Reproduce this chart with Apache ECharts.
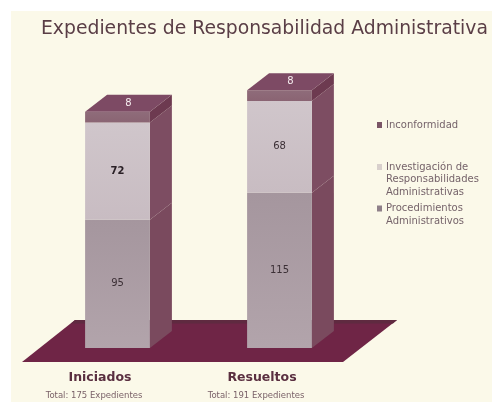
<!DOCTYPE html>
<html><head><meta charset="utf-8">
<style>html,body{margin:0;padding:0;background:#fff}#c{width:492px;height:402px}</style>
<script src="https://cdn.jsdelivr.net/npm/echarts@6/dist/echarts.min.js"></script>
</head><body><div id="c"></div>
<script>
const titleText = 'Expedientes de Responsabilidad Administrativa';
const categories = ['Iniciados', 'Resueltos'];
const totals = ['Total: 175 Expedientes', 'Total: 191 Expedientes'];
const procedimientos = [95, 115];
const investigacion = [72, 68];
const inconformidad = [8, 8];
const seriesNames = ['Procedimientos\nAdministrativos', 'Investigación de\nResponsabilidades\nAdministrativas', 'Inconformidad'];
const values = [procedimientos, investigacion, inconformidad];

const DX = 22, DY = 17;
const fronts = [['#a5969e', '#b2a4ab'], ['#d0c6cb', '#c8bcc2'], ['#8f6c7a', '#8a6473']];
const sides = ['#7a4a5e', '#7d4d62', '#6d3a50'];
const topFace = '#7d4a64';
const legendColors = ['#8f8089', '#d8d0cc', '#7a5566'];

function poly(pts, fill) {
  return { type: 'polygon', shape: { points: pts }, style: { fill }, silent: true };
}
function makeRender(si) {
  return function (params, api) {
    const i = params.dataIndex;
    let base = 0;
    for (let k = 0; k < si; k++) base += values[k][i];
    const val = api.value(1);
    const c = api.value(0);
    const p0 = api.coord([c, base]);
    const p1 = api.coord([c, base + val]);
    const w = api.size([1, 0])[0] * 0.4;
    const x0 = p0[0] - w / 2, x1 = p0[0] + w / 2, yb = p0[1], yt = p1[1];
    const children = [
      poly([[x1, yb], [x1 + DX, yb - DY], [x1 + DX, yt - DY], [x1, yt]], sides[si]),
      { type: 'rect', shape: { x: x0, y: yt, width: w, height: yb - yt }, silent: true,
        style: { fill: new echarts.graphic.LinearGradient(0, 0, 0, 1, [
          { offset: 0, color: fronts[si][0] }, { offset: 1, color: fronts[si][1] }]) } }
    ];
    const isTop = si === values.length - 1;
    if (isTop) {
      children.push(poly([[x0, yt], [x0 + DX, yt - DY], [x1 + DX, yt - DY], [x1, yt]], topFace));
    }
    const bold = si === 1 && i === 0;
    children.push({
      type: 'text', silent: true, z2: 10,
      style: {
        text: String(val),
        x: isTop ? p0[0] + DX / 2 : p0[0],
        y: isTop ? yt - DY / 2 : (yb + yt) / 2,
        align: 'center', verticalAlign: 'middle',
        fontFamily: 'DejaVu Sans', fontSize: 10,
        fontWeight: bold ? 'bold' : 'normal',
        fill: isTop ? '#f6eef0' : (bold ? '#2a2026' : '#3c3036')
      }
    });
    return { type: 'group', children };
  };
}
function legendLabel(name) {
  const lines = name.split('\n');
  return lines.map((l, k) => (k === 0 ? '{m|}{t|' + l + '}' : '{p|}{t|' + l + '}')).join('\n');
}
function makeLegend(si, top) {
  return {
    left: 372, top, orient: 'vertical', icon: 'none', itemWidth: 0, itemHeight: 0, itemGap: 0, padding: 0,
    selectedMode: false, data: [seriesNames[si]], formatter: legendLabel,
    textStyle: {
      padding: 0,
      rich: {
        m: { width: 5, height: 6, backgroundColor: legendColors[si] },
        p: { width: 5, height: 6 },
        t: { fontFamily: 'DejaVu Sans', fontSize: 10, color: '#75636a', padding: [0, 0, 0, 4], lineHeight: 12.5 }
      }
    }
  };
}
const chart = echarts.init(document.getElementById('c'), null, { renderer: 'canvas' });
chart.setOption({
  animation: false,
  backgroundColor: '#fff',
  title: { text: titleText, left: 36, top: 14.5,
    textStyle: { fontFamily: 'DejaVu Sans', fontSize: 18.8, fontWeight: 'normal', color: '#5a3e46' } },
  graphic: [
    { type: 'rect', z: -10, silent: true, shape: { x: 11, y: 11, width: 481, height: 391 }, style: { fill: '#fbf9e9' } },
    { type: 'polygon', z: -5, silent: true, shape: { points: [[22, 362], [75, 320], [397, 320], [343, 362]] }, style: { fill: '#6f2546' } },
    { type: 'polygon', z: -4, silent: true, shape: { points: [[75, 320], [397, 320], [393, 323.5], [71, 323.5]] }, style: { fill: '#5f2a40' } }
  ],
  grid: { left: 36.5, width: 324, top: 78, height: 270 },
  legend: [makeLegend(2, 119), makeLegend(1, 161), makeLegend(0, 202.5)],
  xAxis: {
    type: 'category', data: categories,
    axisLine: { show: false }, axisTick: { show: false },
    axisLabel: {
      margin: 21, interval: 0, padding: [0, 35, 0, 0],
      formatter: (v, i) => '{a|' + v + '}\n{b|' + totals[i] + '}',
      rich: {
        a: { fontFamily: 'DejaVu Sans', fontSize: 12.5, fontWeight: 'bold', color: '#5a2f40', lineHeight: 18 },
        b: { fontFamily: 'DejaVu Sans', fontSize: 8.5, color: '#7a6168', lineHeight: 18, padding: [0, 12, 0, 0] }
      }
    }
  },
  yAxis: { type: 'value', min: 0, max: 200, show: false },
  series: values.map((arr, si) => ({
    type: 'custom', name: seriesNames[si], coordinateSystem: 'cartesian2d',
    itemStyle: { color: legendColors[si] },
    data: arr.map((v, i) => [i, v]), encode: { x: 0, y: 1 }, clip: false,
    renderItem: makeRender(si)
  }))
});
</script></body></html>
